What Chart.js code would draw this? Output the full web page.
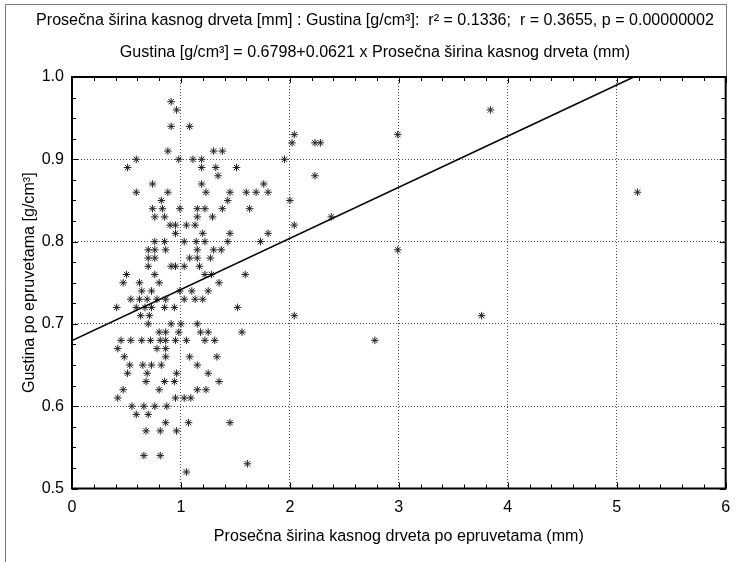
<!DOCTYPE html>
<html lang="sr">
<head>
  <meta charset="UTF-8">
  <title>Gustina / sirina kasnog drveta</title>
  <script src="https://cdn.jsdelivr.net/npm/chart.js"></script>
  <style>
    body {
      margin: 0;
      background: #fff;
    }
    #chart {
      display: block;
    }
  </style>
</head>
<body>
<canvas id="chart" width="740" height="562"></canvas>

<script>
// Prosecna sirina kasnog drveta (mm), row by row
const sirina = [
  0.91,
  0.96, 3.84,
  0.91, 1.08,
  2.04, 2.99,
  2.02, 2.23, 2.28,
  0.88, 1.30, 1.38,
  0.59, 0.98, 1.11, 1.19, 1.95,
  0.51, 1.19, 1.32, 1.51,
  1.34, 2.23,
  0.74, 1.19, 1.76,
  0.59, 0.88, 1.23, 1.45, 1.60, 1.69, 1.80, 5.19,
  0.82, 1.43, 2.00,
  0.74, 0.83, 0.99, 1.15, 1.22, 1.38, 1.63,
  0.76, 0.85, 1.15, 1.29, 2.38,
  0.90, 0.95, 1.05, 1.13, 2.04,
  0.95, 1.20, 1.45, 1.80,
  0.76, 0.85, 1.03, 1.14, 1.22, 1.43, 1.73,
  0.70, 0.76, 0.86, 1.15, 1.30, 1.37, 2.99,
  0.70, 0.76, 1.08, 1.15, 1.27,
  0.70, 0.91, 0.95, 1.03, 1.17,
  0.50, 0.76, 1.22, 1.28, 1.59,
  0.47, 0.62, 0.80, 1.35,
  0.64, 0.73, 0.99, 1.10, 1.25,
  0.54, 0.62, 0.69, 0.78, 0.86, 1.03, 1.13, 1.20,
  0.41, 0.59, 0.67, 0.73, 0.85, 0.94, 1.52,
  0.63, 0.71, 2.04, 3.76,
  0.70, 0.91, 1.00, 1.15,
  0.80, 0.86, 0.98, 1.18, 1.25, 1.56,
  0.45, 0.54, 0.64, 0.72, 0.81, 0.86, 0.95, 1.05, 1.22, 1.31, 2.78,
  0.42, 0.78, 0.86,
  0.48, 0.86, 1.08, 1.33,
  0.53, 0.65, 0.73, 0.82, 1.15,
  0.51, 0.69, 0.96, 1.25,
  0.68, 0.85, 0.94, 1.35,
  0.47, 0.80, 1.15, 1.23,
  0.42, 0.95, 1.03, 1.09,
  0.55, 0.66, 0.76, 0.87,
  0.59, 0.70,
  0.86, 1.07, 1.45,
  0.68, 0.81, 0.96,
  0.66, 0.81,
  1.61,
  1.05
];

// Gustina po epruvetama (g/cm3), same order as above
const gustina = [
  0.97,
  0.96, 0.96,
  0.94, 0.94,
  0.93, 0.93,
  0.92, 0.92, 0.92,
  0.91, 0.91, 0.91,
  0.90, 0.90, 0.90, 0.90, 0.90,
  0.89, 0.89, 0.89, 0.89,
  0.88, 0.88,
  0.87, 0.87, 0.87,
  0.86, 0.86, 0.86, 0.86, 0.86, 0.86, 0.86, 0.86,
  0.85, 0.85, 0.85,
  0.84, 0.84, 0.84, 0.84, 0.84, 0.84, 0.84,
  0.83, 0.83, 0.83, 0.83, 0.83,
  0.82, 0.82, 0.82, 0.82, 0.82,
  0.81, 0.81, 0.81, 0.81,
  0.80, 0.80, 0.80, 0.80, 0.80, 0.80, 0.80,
  0.79, 0.79, 0.79, 0.79, 0.79, 0.79, 0.79,
  0.78, 0.78, 0.78, 0.78, 0.78,
  0.77, 0.77, 0.77, 0.77, 0.77,
  0.76, 0.76, 0.76, 0.76, 0.76,
  0.75, 0.75, 0.75, 0.75,
  0.74, 0.74, 0.74, 0.74, 0.74,
  0.73, 0.73, 0.73, 0.73, 0.73, 0.73, 0.73, 0.73,
  0.72, 0.72, 0.72, 0.72, 0.72, 0.72, 0.72,
  0.71, 0.71, 0.71, 0.71,
  0.70, 0.70, 0.70, 0.70,
  0.69, 0.69, 0.69, 0.69, 0.69, 0.69,
  0.68, 0.68, 0.68, 0.68, 0.68, 0.68, 0.68, 0.68, 0.68, 0.68, 0.68,
  0.67, 0.67, 0.67,
  0.66, 0.66, 0.66, 0.66,
  0.65, 0.65, 0.65, 0.65, 0.65,
  0.64, 0.64, 0.64, 0.64,
  0.63, 0.63, 0.63, 0.63,
  0.62, 0.62, 0.62, 0.62,
  0.61, 0.61, 0.61, 0.61,
  0.60, 0.60, 0.60, 0.60,
  0.59, 0.59,
  0.58, 0.58, 0.58,
  0.57, 0.57, 0.57,
  0.54, 0.54,
  0.53,
  0.52
];

// regression from the title
const intercept = 0.6798;
const slope = 0.0621;

const xTicks = [0, 1, 2, 3, 4, 5, 6];
const yTicks = [0.5, 0.6, 0.7, 0.8, 0.9, 1.0];

const titleLines = [
  'Prosečna širina kasnog drveta [mm] : Gustina [g/cm³]:  r² = 0.1336;  r = 0.3655, p = 0.00000002',
  'Gustina [g/cm³] = 0.6798+0.0621 x Prosečna širina kasnog drveta (mm)'
];
const xTitle = 'Prosečna širina kasnog drveta po epruvetama (mm)';
const yTitle = 'Gustina po epruvetama [g/cm³]';

// the original uses a condensed face; pick a size so the first title line keeps its width
const FONT = '"Liberation Sans Narrow", "Liberation Sans", Arial, sans-serif';
const measure = document.createElement('canvas').getContext('2d');
measure.font = '20px ' + FONT;
const SIZE = Math.min(19, 20 * 678 / measure.measureText(titleLines[0]).width);
const LH = SIZE * 1.2;

const PAD_LEFT = 19;   // shifts the title centre right, axis width makes up for it
const PLOT_LEFT = 72;

const points = sirina.map((v, i) => ({ x: v, y: gustina[i] }));

// line runs from x=0 up to where it leaves the top of the plot
const yMax = yTicks[yTicks.length - 1];
const fitLine = [
  { x: xTicks[0], y: intercept + slope * xTicks[0] },
  { x: (yMax - intercept) / slope, y: yMax }
];

// outer frame, plot border and the small inside ticks
const decorations = {
  id: 'decorations',
  beforeDraw(chart) {
    const { ctx, height, chartArea } = chart;
    const r = Math.round(chartArea.right) + 0.5;
    ctx.save();
    ctx.strokeStyle = '#7a7a7a';
    ctx.lineWidth = 1;
    ctx.beginPath();
    ctx.moveTo(5.5, height);
    ctx.lineTo(5.5, 4.5);
    ctx.lineTo(r, 4.5);
    ctx.lineTo(r, chartArea.top);
    ctx.stroke();
    ctx.restore();
  },
  afterDraw(chart) {
    const { ctx, chartArea: a, scales } = chart;
    ctx.save();
    ctx.strokeStyle = '#000';
    ctx.lineWidth = 1;
    ctx.beginPath();
    for (let v = 0; v <= 6.001; v += 0.2) {
      const px = Math.round(scales.x.getPixelForValue(v)) + 0.5;
      const len = Math.abs(v - Math.round(v)) < 0.01 ? 6 : 4;
      ctx.moveTo(px, a.bottom); ctx.lineTo(px, a.bottom - len);
      ctx.moveTo(px, a.top); ctx.lineTo(px, a.top + len);
    }
    for (let v = 0.5; v <= 1.0001; v += 0.025) {
      const py = Math.round(scales.y.getPixelForValue(v)) + 0.5;
      const len = Math.abs(v * 10 - Math.round(v * 10)) < 0.01 ? 6 : 4;
      ctx.moveTo(a.left, py); ctx.lineTo(a.left + len, py);
      ctx.moveTo(a.right, py); ctx.lineTo(a.right - len, py);
    }
    ctx.stroke();
    ctx.lineWidth = 2;
    ctx.strokeRect(a.left, a.top, a.right - a.left, a.bottom - a.top);
    ctx.restore();
  }
};

const ctx = document.getElementById('chart').getContext('2d');
new Chart(ctx, {
  type: 'scatter',
  data: {
    datasets: [
      {
        label: 'Gustina',
        data: points,
        pointStyle: 'star',
        pointRadius: 3.8,
        borderColor: '#222',
        backgroundColor: '#222',
        borderWidth: 1,
        order: 2
      },
      {
        label: 'Regresija',
        data: fitLine,
        showLine: true,
        pointRadius: 0,
        borderColor: '#000',
        borderWidth: 1.6,
        fill: false,
        order: 1
      }
    ]
  },
  options: {
    responsive: false,
    animation: false,
    layout: { padding: { top: 0, right: 9, bottom: 0, left: PAD_LEFT } },
    plugins: {
      legend: { display: false },
      tooltip: { enabled: false },
      title: {
        display: true,
        text: titleLines,
        color: '#000',
        font: { family: FONT, size: SIZE, weight: 'normal', lineHeight: 32 / SIZE },
        padding: { top: 5, bottom: 8 }
      }
    },
    scales: {
      x: {
        type: 'linear',
        min: 0,
        max: 6,
        afterBuildTicks: s => { s.ticks = xTicks.map(v => ({ value: v })); },
        ticks: {
          color: '#000',
          font: { family: FONT, size: SIZE },
          padding: 19.5 - LH / 2,
          maxRotation: 0
        },
        grid: { color: '#4a4a4a', lineWidth: 1, drawTicks: false },
        border: { display: false, dash: [1, 2] },
        title: {
          display: true,
          text: xTitle,
          color: '#000',
          font: { family: FONT, size: SIZE },
          padding: { top: 4, bottom: 25 - LH / 2 }
        },
        afterFit: s => { s.height = 73.5; }
      },
      y: {
        type: 'linear',
        min: 0.5,
        max: 1.0,
        afterBuildTicks: s => { s.ticks = yTicks.map(v => ({ value: v })); },
        ticks: {
          color: '#000',
          font: { family: FONT, size: SIZE },
          padding: 8,
          callback: v => v.toFixed(1)
        },
        grid: { color: '#4a4a4a', lineWidth: 1, drawTicks: false },
        border: { display: false, dash: [1, 2] },
        title: {
          display: true,
          text: yTitle,
          color: '#000',
          font: { family: FONT, size: SIZE },
          padding: { top: Math.max(0, 30 - PAD_LEFT - LH / 2), bottom: 0 }
        },
        afterFit: s => { s.width = PLOT_LEFT - PAD_LEFT; }
      }
    }
  },
  plugins: [decorations]
});
</script>
</body>
</html>
